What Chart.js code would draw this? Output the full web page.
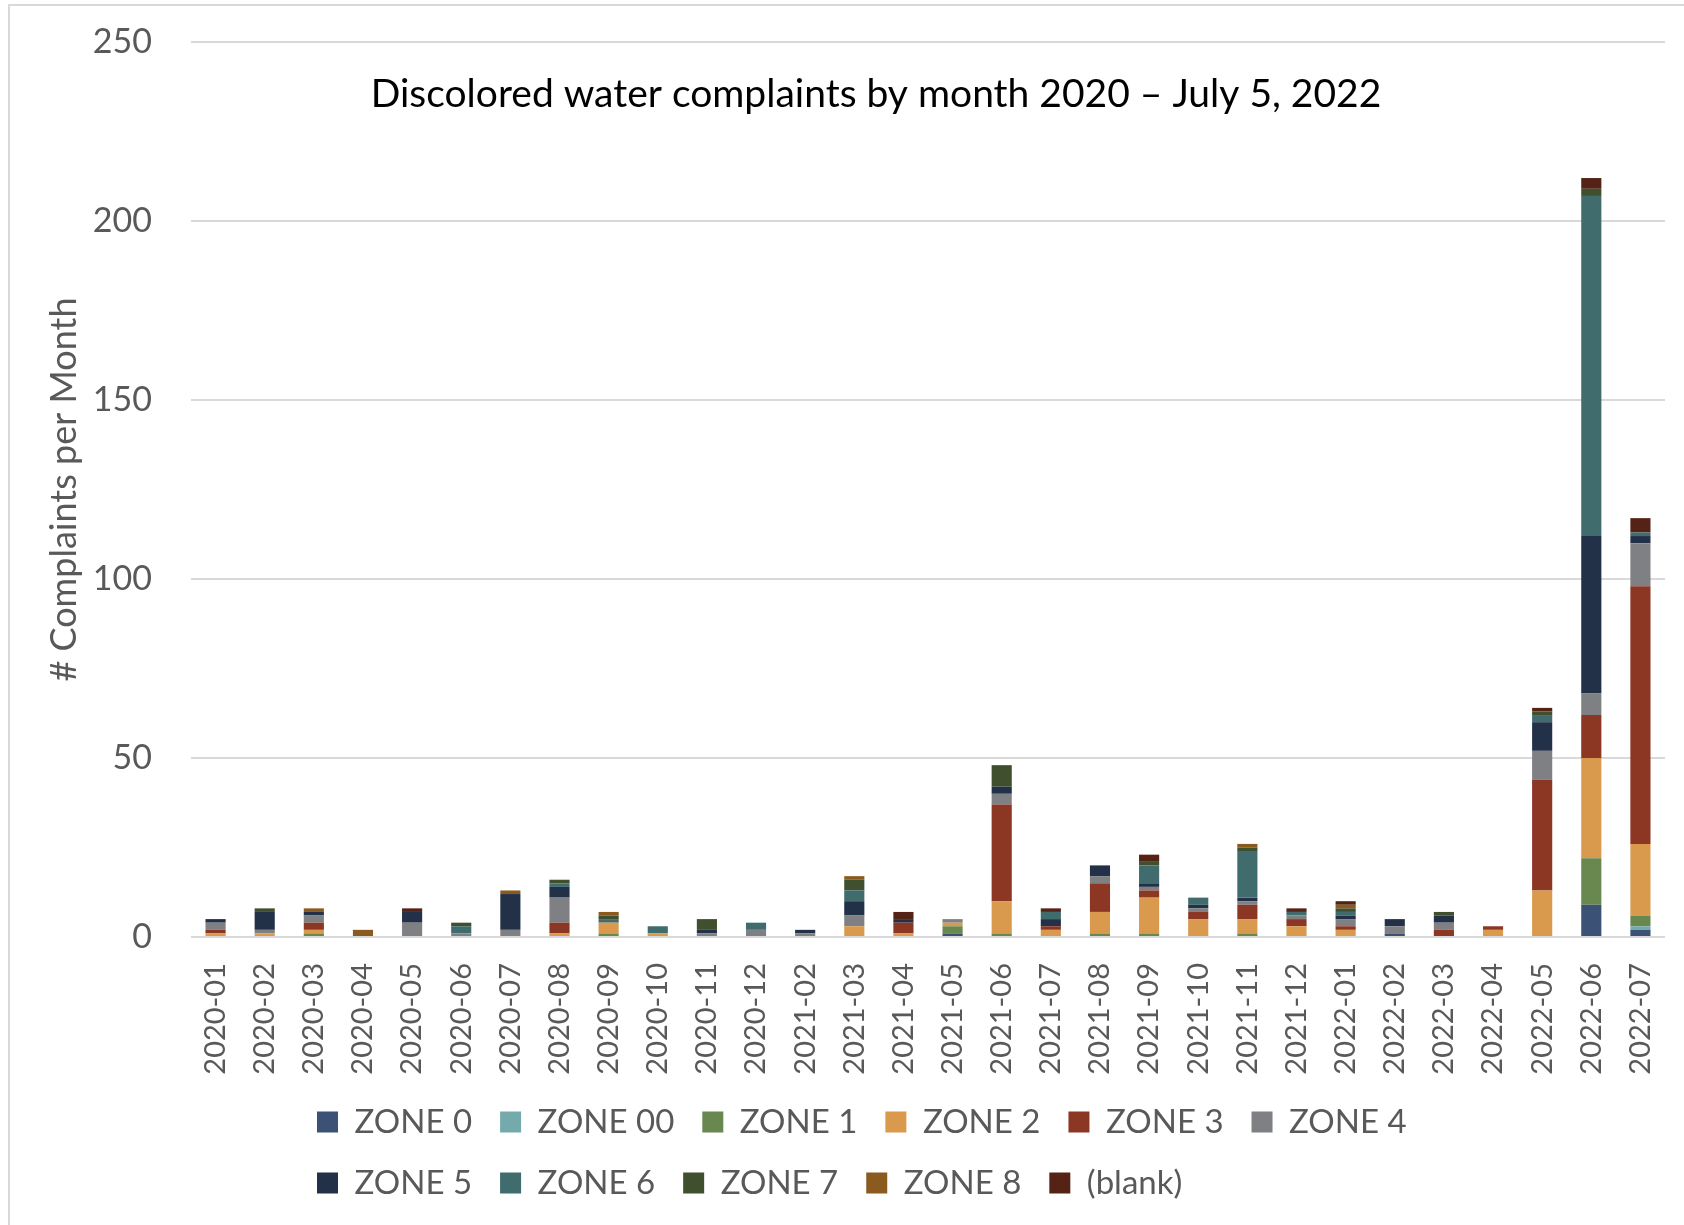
<!DOCTYPE html>
<html>
<head>
<meta charset="utf-8">
<script src="https://cdn.jsdelivr.net/npm/chart.js@4.4.1/dist/chart.umd.min.js"></script>
<style>
  html, body { margin: 0; padding: 0; background: #ffffff; }
  #wrap { position: relative; width: 1684px; height: 1225px; overflow: hidden; }
  #frame { position: absolute; left: 8px; top: 4px; width: 1700px; height: 1300px; border: 2px solid #D9D9D9; pointer-events: none; }
  canvas { position: absolute; left: 0; top: 0; }
</style>
</head>
<body>
<div id="wrap">
  <canvas id="c" width="1684" height="1225"></canvas>
  <div id="frame"></div>
</div>
<script>
// ---- data ----
const categories = ["2020-01","2020-02","2020-03","2020-04","2020-05","2020-06","2020-07","2020-08","2020-09","2020-10","2020-11","2020-12",
  "2021-02","2021-03","2021-04","2021-05","2021-06","2021-07","2021-08","2021-09","2021-10","2021-11","2021-12",
  "2022-01","2022-02","2022-03","2022-04","2022-05","2022-06","2022-07"];
const seriesNames = ["ZONE 0","ZONE 00","ZONE 1","ZONE 2","ZONE 3","ZONE 4","ZONE 5","ZONE 6","ZONE 7","ZONE 8","(blank)"];
const zone0  = [0,0,0,0,0,0,0,0,0,0,0,0, 0,0,0,1,0,0,0,0,0,0,0, 0,1,0,0,0,9,2];
const zone00 = [0,0,0,0,0,0,0,0,0,0,0,0, 0,0,0,0,0,0,0,0,0,0,0, 0,0,0,0,0,0,1];
const zone1  = [0,0,1,0,0,0,0,0,1,0,0,0, 0,0,0,2,1,0,1,1,0,1,0, 0,0,0,0,0,13,3];
const zone2  = [1,1,1,0,0,0,0,1,3,1,0,0, 0,3,1,1,9,2,6,10,5,4,3, 2,0,0,2,13,28,20];
const zone3  = [1,0,2,0,0,0,0,3,0,0,0,0, 0,0,3,0,27,1,8,2,2,4,2, 1,0,2,1,31,12,72];
const zone4  = [2,1,2,0,4,1,2,7,0,0,1,2, 1,3,0,1,3,0,2,1,1,1,1, 2,2,2,0,8,6,12];
const zone5  = [1,5,1,0,3,0,10,3,0,0,1,0, 1,4,1,0,2,2,3,1,1,1,0, 1,2,2,0,8,44,2];
const zone6  = [0,0,0,0,0,2,0,1,1,2,0,2, 0,3,0,0,0,2,0,5,2,13,1, 1,0,0,0,2,95,1];
const zone7  = [0,1,0,0,0,1,0,1,1,0,3,0, 0,3,0,0,6,0,0,1,0,1,0, 1,0,1,0,1,2,0];
const zone8  = [0,0,1,2,0,0,1,0,1,0,0,0, 0,1,0,0,0,0,0,0,0,1,0, 1,0,0,0,0,0,0];
const blank  = [0,0,0,0,1,0,0,0,0,0,0,0, 0,0,2,0,0,1,0,2,0,0,1, 1,0,0,0,1,3,4];
const yTicks = [0, 50, 100, 150, 200, 250];

const seriesValues = [zone0, zone00, zone1, zone2, zone3, zone4, zone5, zone6, zone7, zone8, blank];
const seriesColors = ["#3B5276","#75AAAD","#698850","#DA9A4D","#8C3624","#7F8084","#223048","#406C6E","#404F2D","#8B5A1E","#552216"];

const FONT = "Lato, 'Open Sans', sans-serif";

const placeBoxes = {
  id: 'placeBoxes',
  afterLayout(chart) {
    const lg = chart.legend;
    if (lg) { lg.left = 289; lg.right = 1500; }
    const t = chart.titleBlock;
    if (t) { t.left = 68; t.right = 1684; }
  }
};

new Chart(document.getElementById('c'), {
  type: 'bar',
  data: {
    labels: categories,
    datasets: seriesNames.map((name, i) => ({
      label: name,
      data: seriesValues[i],
      backgroundColor: seriesColors[i],
      borderWidth: 0,
      barPercentage: 0.41,
      categoryPercentage: 1.0
    }))
  },
  options: {
    responsive: false,
    animation: false,
    devicePixelRatio: 1,
    layout: { padding: { left: 24, right: 19, top: 42, bottom: 15.5 } },
    plugins: {
      tooltip: { enabled: false },
      title: {
        display: true,
        text: 'Discolored water complaints by month 2020 \u2013 July 5, 2022',
        color: '#000000',
        font: { family: FONT, size: 39, weight: 'normal', lineHeight: 1.2 },
        padding: { top: 28.6, bottom: -75.4 }
      },
      legend: {
        display: true,
        position: 'bottom',
        align: 'start',
        labels: {
          color: '#595959',
          font: { family: FONT, size: 33 },
          boxWidth: 21,
          boxHeight: 21,
          padding: 28
        }
      }
    },
    scales: {
      x: {
        stacked: true,
        grid: { display: false, drawTicks: false },
        border: { display: false },
        ticks: {
          color: '#595959',
          font: { family: FONT, size: 29 },
          minRotation: 90,
          maxRotation: 90,
          autoSkip: false,
          padding: 26
        },
        afterFit(axis) {
          axis.height = 140.5;
          axis.paddingLeft = 0;
          axis.paddingRight = 0;
        }
      },
      y: {
        stacked: true,
        min: 0,
        max: 250,
        afterBuildTicks(axis) { axis.ticks = yTicks.map(v => ({ value: v })); },
        grid: { color: '#D9D9D9', lineWidth: 2, drawTicks: false },
        border: { display: false },
        ticks: {
          color: '#595959',
          font: { family: FONT, size: 34 },
          padding: 39
        },
        title: {
          display: true,
          text: '# Complaints per Month',
          color: '#595959',
          font: { family: FONT, size: 36 },
          padding: { top: 19, bottom: 10 }
        },
        afterFit(axis) {
          axis.width = 167;
          axis.paddingTop = 0;
          axis.paddingBottom = 0;
        }
      }
    }
  },
  plugins: [placeBoxes]
});
</script>
</body>
</html>
